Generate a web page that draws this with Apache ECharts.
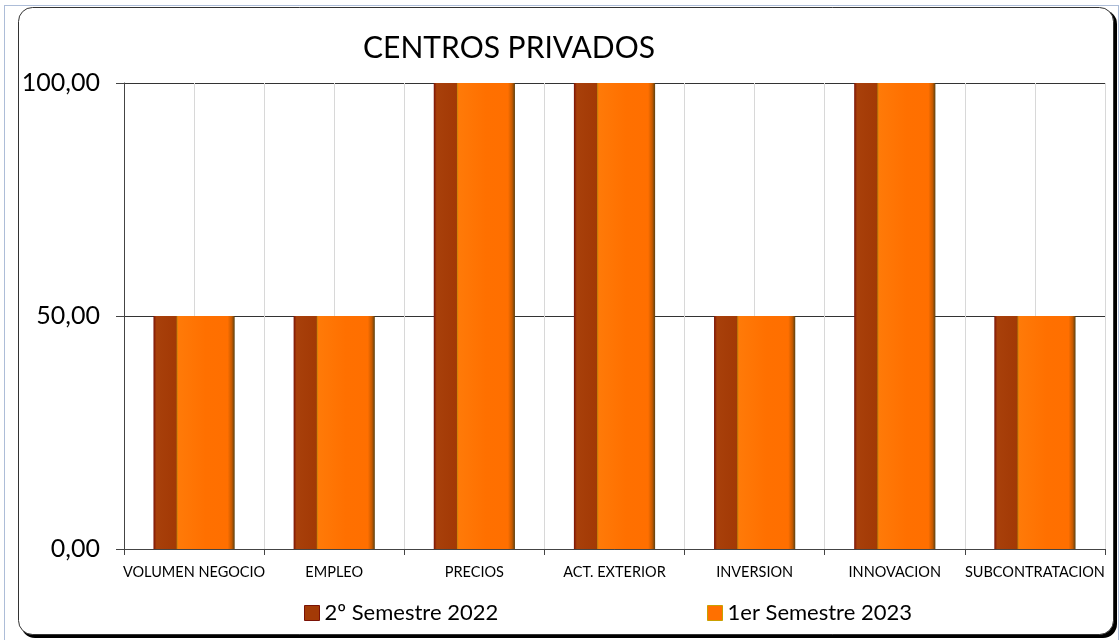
<!DOCTYPE html>
<html><head><meta charset="utf-8">
<script src="https://cdn.jsdelivr.net/npm/echarts@6/dist/echarts.min.js"></script>
<style>html,body{margin:0;padding:0;background:#fff}#c{width:1119px;height:640px}</style>
</head><body><div id="c"></div>
<script>
const categories = ['VOLUMEN NEGOCIO','EMPLEO','PRECIOS','ACT. EXTERIOR','INVERSION','INNOVACION','SUBCONTRATACION'];
const seriesNames = ['2º Semestre 2022','1er Semestre 2023'];
const s2022 = [50,50,100,100,50,100,50];
const s2023 = [50,50,100,100,50,100,50];
const yTicks = [0,50,100];

const FONT = 'Lato, "Liberation Sans", sans-serif';
const chart = echarts.init(document.getElementById('c'), null, {renderer:'canvas'});
const darkGrad = new echarts.graphic.LinearGradient(0,0,1,0,[
  {offset:0,color:'#7a1206'},{offset:0.05,color:'#a8400a'},{offset:0.35,color:'#a33a06'},{offset:1,color:'#8f3004'}]);
const orangeGrad = new echarts.graphic.LinearGradient(0,0,1,0,[
  {offset:0,color:'#b8860b'},{offset:0.03,color:'#ff7a08'},{offset:0.5,color:'#ff7000'},
  {offset:0.88,color:'#ff6f00'},{offset:0.95,color:'#c65a00'},{offset:1,color:'#5a4010'}]);
chart.setOption({
  animation:false,
  backgroundColor:'#fff',
  graphic:[
    {type:'rect',shape:{x:4.5,y:5.5,width:1114,height:640},style:{fill:'none',stroke:'#5a7ab0',lineWidth:1,lineDash:[1,1]},z:-10},
    {type:'rect',shape:{x:21,y:10,width:1096,height:628,r:14},style:{fill:'#000'},z:-9},
    {type:'rect',shape:{x:18.5,y:7.5,width:1095,height:627,r:14},style:{fill:'#fff',stroke:'#333',lineWidth:1},z:-8}
  ],
  title:{text:'CENTROS PRIVADOS',left:504,top:28,textAlign:'center',
    textStyle:{fontFamily:FONT,fontSize:30,fontWeight:'normal',color:'#000'}},
  legend:[
    {data:[{name:seriesNames[0],itemStyle:{color:'#a33a06',borderColor:'#7a1206',borderWidth:1}}],left:299,top:597,itemWidth:15,itemHeight:15,icon:'rect',itemGap:8,
      textStyle:{fontFamily:FONT,fontSize:22,color:'#000'}},
    {data:[{name:seriesNames[1],itemStyle:{color:'#ff7000',borderColor:'#c9a000',borderWidth:1}}],left:702,top:597,itemWidth:15,itemHeight:15,icon:'rect',
      textStyle:{fontFamily:FONT,fontSize:22,color:'#000'}}
  ],
  grid:{left:124,right:14,top:83,bottom:91,containLabel:false},
  xAxis:[
    {type:'category',data:categories,boundaryGap:true,
      axisLine:{lineStyle:{color:'#444',width:1}},
      axisTick:{show:true,length:6,lineStyle:{color:'#444'},alignWithLabel:false},
      axisLabel:{fontFamily:FONT,fontSize:14.5,color:'#000',margin:16,interval:0},
      splitLine:{show:false}},
    {type:'value',min:0,max:categories.length,interval:0.5,show:true,position:'bottom',
      axisLine:{show:false},axisTick:{show:false},axisLabel:{show:false},
      splitLine:{show:true,lineStyle:{color:'#d8d8d8',width:1}}}
  ],
  yAxis:{type:'value',min:yTicks[0],max:yTicks[yTicks.length-1],interval:yTicks[1]-yTicks[0],
    axisLine:{show:true,lineStyle:{color:'#444'}},
    axisTick:{show:true,length:8,lineStyle:{color:'#444'}},
    axisLabel:{fontFamily:FONT,fontSize:25,color:'#000',margin:24,
      formatter:v=>v.toFixed(2).replace('.',',')},
    splitLine:{show:true,lineStyle:{color:'#333',width:1}}},
  series:[
    {name:seriesNames[0],type:'bar',data:s2022,barWidth:58,barGap:'-60%',xAxisIndex:0,
      itemStyle:{color:darkGrad},z:2},
    {name:seriesNames[1],type:'bar',data:s2023,barWidth:58,barGap:'-60%',xAxisIndex:0,
      itemStyle:{color:orangeGrad},z:3}
  ]
});
</script></body></html>
